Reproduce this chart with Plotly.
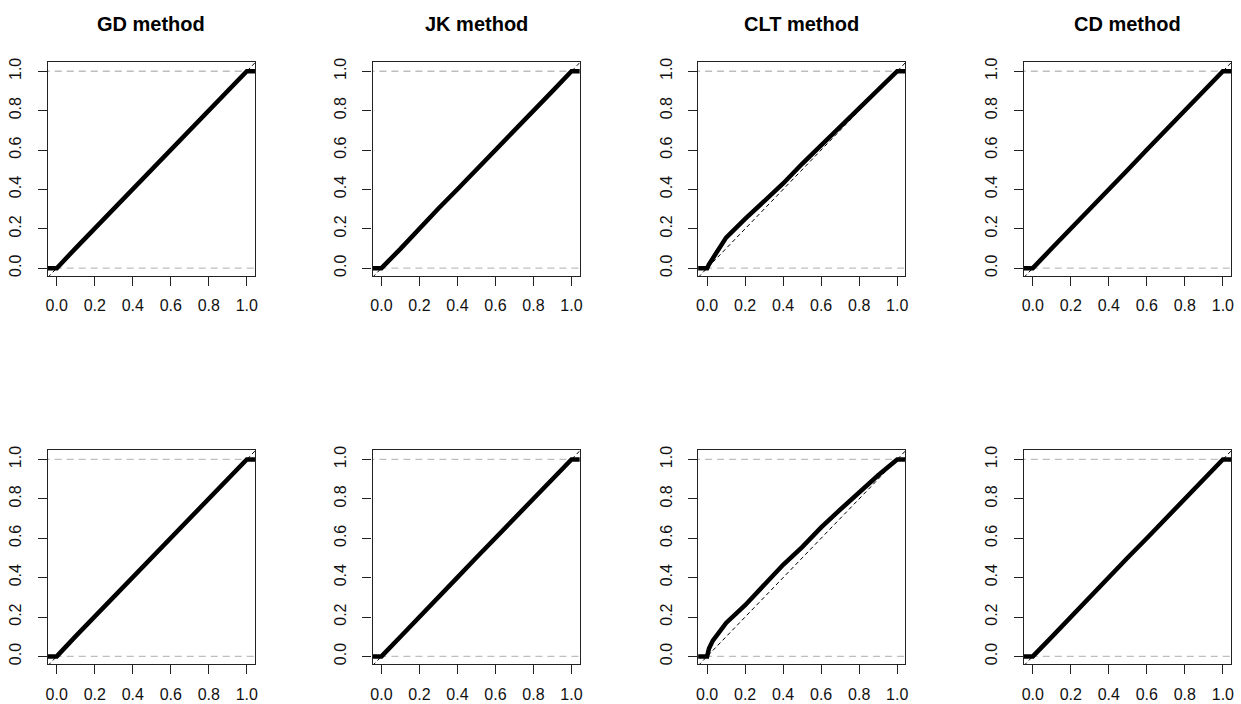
import plotly.graph_objects as go

# ---- data ----
titles = ["GD method", "JK method", "CLT method", "CD method"]
tick_vals = [0.0, 0.2, 0.4, 0.6, 0.8, 1.0]
tick_text = ["0.0", "0.2", "0.4", "0.6", "0.8", "1.0"]

grid_x = [-0.1, 0.0, 0.1, 0.2, 0.3, 0.4, 0.5, 0.6, 0.7, 0.8, 0.9, 1.0, 1.1]
clt_x = [-0.1, 0.0, 0.01, 0.03, 0.05, 0.1, 0.2, 0.3, 0.4, 0.5, 0.6, 0.7, 0.8, 0.9, 1.0, 1.1]

gd_top = [0.0, 0.0, 0.102, 0.201, 0.300, 0.398, 0.502, 0.601, 0.702, 0.798, 0.900, 1.0, 1.0]
jk_top = [0.0, 0.0, 0.098, 0.202, 0.303, 0.401, 0.499, 0.600, 0.701, 0.800, 0.899, 1.0, 1.0]
clt_top = [0.0, 0.0, 0.02, 0.05, 0.08, 0.155, 0.25, 0.34, 0.43, 0.53, 0.625, 0.72, 0.815, 0.91, 1.0, 1.0]
cd_top = [0.0, 0.0, 0.101, 0.199, 0.301, 0.402, 0.500, 0.601, 0.699, 0.801, 0.900, 1.0, 1.0]

gd_bot = [0.0, 0.0, 0.103, 0.202, 0.301, 0.402, 0.501, 0.600, 0.703, 0.801, 0.899, 1.0, 1.0]
jk_bot = [0.0, 0.0, 0.100, 0.203, 0.302, 0.401, 0.502, 0.601, 0.700, 0.799, 0.900, 1.0, 1.0]
clt_bot = [0.0, 0.0, 0.04, 0.08, 0.105, 0.17, 0.26, 0.36, 0.465, 0.555, 0.655, 0.745, 0.835, 0.92, 1.0, 1.0]
cd_bot = [0.0, 0.0, 0.099, 0.201, 0.300, 0.401, 0.502, 0.600, 0.701, 0.800, 0.901, 1.0, 1.0]

series = [
    (grid_x, gd_top), (grid_x, jk_top), (clt_x, clt_top), (grid_x, cd_top),
    (grid_x, gd_bot), (grid_x, jk_bot), (clt_x, clt_bot), (grid_x, cd_bot),
]

W, H = 1241, 704
box_left = [46, 372, 699, 1026]
box_w = 208
row_top = [58, 449]
box_h = 216

fig = go.Figure()
layout = {}
for i, (xs, ys) in enumerate(series):
    r, c = divmod(i, 4)
    n = i + 1
    xa = "x" if n == 1 else f"x{n}"
    ya = "y" if n == 1 else f"y{n}"
    # gray dashed reference lines at 0 and 1
    for h in (0.0, 1.0):
        fig.add_trace(go.Scatter(x=[-0.2, 1.2], y=[h, h], mode="lines",
                                 line=dict(color="#bebebe", width=1.3, dash="7px,5px"),
                                 xaxis=xa, yaxis=ya, showlegend=False, hoverinfo="skip"))
    # ecdf curve
    fig.add_trace(go.Scatter(x=xs, y=ys, mode="lines",
                             line=dict(color="black", width=4.5),
                             xaxis=xa, yaxis=ya, showlegend=False))
    # diagonal abline
    fig.add_trace(go.Scatter(x=[-0.2, 1.2], y=[-0.2, 1.2], mode="lines",
                             line=dict(color="black", width=1, dash="4px,3px"),
                             xaxis=xa, yaxis=ya, showlegend=False, hoverinfo="skip"))
    x0 = box_left[c] / W
    x1 = (box_left[c] + box_w) / W
    y1 = 1 - row_top[r] / H
    y0 = 1 - (row_top[r] + box_h) / H
    axis_common = dict(showgrid=False, zeroline=False, showline=True, mirror=True,
                       linecolor="#222222", linewidth=1.3, ticks="outside", ticklen=9,
                       tickwidth=1.3, tickcolor="#222222", tickvals=tick_vals,
                       ticktext=tick_text,
                       tickfont=dict(family="Liberation Sans, Arial", size=16, color="#111111"))
    layout["xaxis" if n == 1 else f"xaxis{n}"] = dict(
        domain=[x0, x1], anchor=ya, range=[-0.047, 1.043], ticklabelstandoff=6, **axis_common)
    layout["yaxis" if n == 1 else f"yaxis{n}"] = dict(
        domain=[y0, y1], anchor=xa, range=[-0.04, 1.049], tickangle=-90,
        ticklabelstandoff=10, **axis_common)

annotations = []
for c, t in enumerate(titles):
    annotations.append(dict(text=f"<b>{t}</b>", x=(box_left[c] + box_w / 2) / W, y=1 - 20 / H,
                            xref="paper", yref="paper", showarrow=False,
                            xanchor="center", yanchor="middle",
                            font=dict(family="Liberation Sans, Arial", size=20, color="black")))

fig.update_layout(width=W, height=H, margin=dict(l=0, r=0, t=0, b=0),
                  paper_bgcolor="white", plot_bgcolor="white",
                  annotations=annotations, **layout)

fig.write_html("out.html")
